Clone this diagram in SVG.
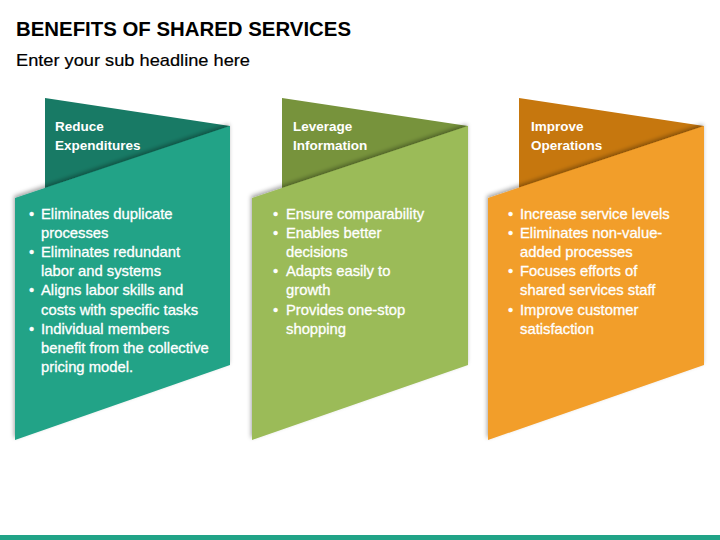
<svg xmlns="http://www.w3.org/2000/svg" width="720" height="540" viewBox="0 0 720 540">
<defs>
<style>
.title{font-family:"Liberation Sans",Arial,sans-serif;font-weight:bold;font-size:21px;fill:#000}
.sub{font-family:"Liberation Sans",Arial,sans-serif;font-size:17px;fill:#000;stroke:#000;stroke-width:0.2}
.hd{font-family:"Liberation Sans",Arial,sans-serif;font-weight:bold;font-size:13.5px;fill:#fff}
.bt{font-family:"Liberation Sans",Arial,sans-serif;font-size:14.8px;fill:#fff;stroke:#fff;stroke-width:0.3}
</style>
<filter id="sh" x="-10%" y="-10%" width="120%" height="120%">
<feDropShadow dx="-1" dy="-2" stdDeviation="2" flood-color="#000" flood-opacity="0.35"/>
</filter>
</defs>
<rect width="720" height="540" fill="#fff"/>
<text class="title" x="16" y="36" textLength="335" lengthAdjust="spacingAndGlyphs">BENEFITS OF SHARED SERVICES</text>
<text class="sub" x="16" y="66" textLength="234" lengthAdjust="spacingAndGlyphs">Enter your sub headline here</text>

<g id="panel-reduce">
<polygon points="45,98 230,126 230,140 45,200" fill="#187A65"/>
<polygon points="15,198 230,126 230,365 15,440" fill="#21A387" filter="url(#sh)"/>
<text class="hd" x="55" y="131">Reduce</text>
<text class="hd" x="55" y="149.5">Expenditures</text>
<g class="bt">
<text x="29" y="218.5">•</text><text x="41" y="218.5">Eliminates duplicate</text>
<text x="41" y="237.7">processes</text>
<text x="29" y="256.9">•</text><text x="41" y="256.9">Eliminates redundant</text>
<text x="41" y="276.1">labor and systems</text>
<text x="29" y="295.3">•</text><text x="41" y="295.3">Aligns labor skills and</text>
<text x="41" y="314.5">costs with specific tasks</text>
<text x="29" y="333.7">•</text><text x="41" y="333.7">Individual members</text>
<text x="41" y="352.9">benefit from the collective</text>
<text x="41" y="372.1">pricing model.</text>
</g>
</g>

<g id="panel-leverage">
<polygon points="282,98 468,126 468,140 282,200" fill="#77933C"/>
<polygon points="252,198 468,126 468,365 252,440" fill="#9BBB59" filter="url(#sh)"/>
<text class="hd" x="293" y="131">Leverage</text>
<text class="hd" x="293" y="149.5">Information</text>
<g class="bt">
<text x="273" y="218.5">•</text><text x="286" y="218.5">Ensure comparability</text>
<text x="273" y="237.7">•</text><text x="286" y="237.7">Enables better</text>
<text x="286" y="256.9">decisions</text>
<text x="273" y="276.1">•</text><text x="286" y="276.1">Adapts easily to</text>
<text x="286" y="295.3">growth</text>
<text x="273" y="314.5">•</text><text x="286" y="314.5">Provides one-stop</text>
<text x="286" y="333.7">shopping</text>
</g>
</g>

<g id="panel-improve">
<polygon points="519,98 704,126 704,140 519,200" fill="#C6770E"/>
<polygon points="488,198 704,126 704,365 488,440" fill="#F29E2B" filter="url(#sh)"/>
<text class="hd" x="531" y="131">Improve</text>
<text class="hd" x="531" y="149.5">Operations</text>
<g class="bt">
<text x="508" y="218.5">•</text><text x="520" y="218.5">Increase service levels</text>
<text x="508" y="237.7">•</text><text x="520" y="237.7">Eliminates non-value-</text>
<text x="520" y="256.9">added processes</text>
<text x="508" y="276.1">•</text><text x="520" y="276.1">Focuses efforts of</text>
<text x="520" y="295.3">shared services staff</text>
<text x="508" y="314.5">•</text><text x="520" y="314.5">Improve customer</text>
<text x="520" y="333.7">satisfaction</text>
</g>
</g>

<g id="connectors"></g>
<rect x="0" y="535" width="720" height="5" fill="#21A387"/>
</svg>
